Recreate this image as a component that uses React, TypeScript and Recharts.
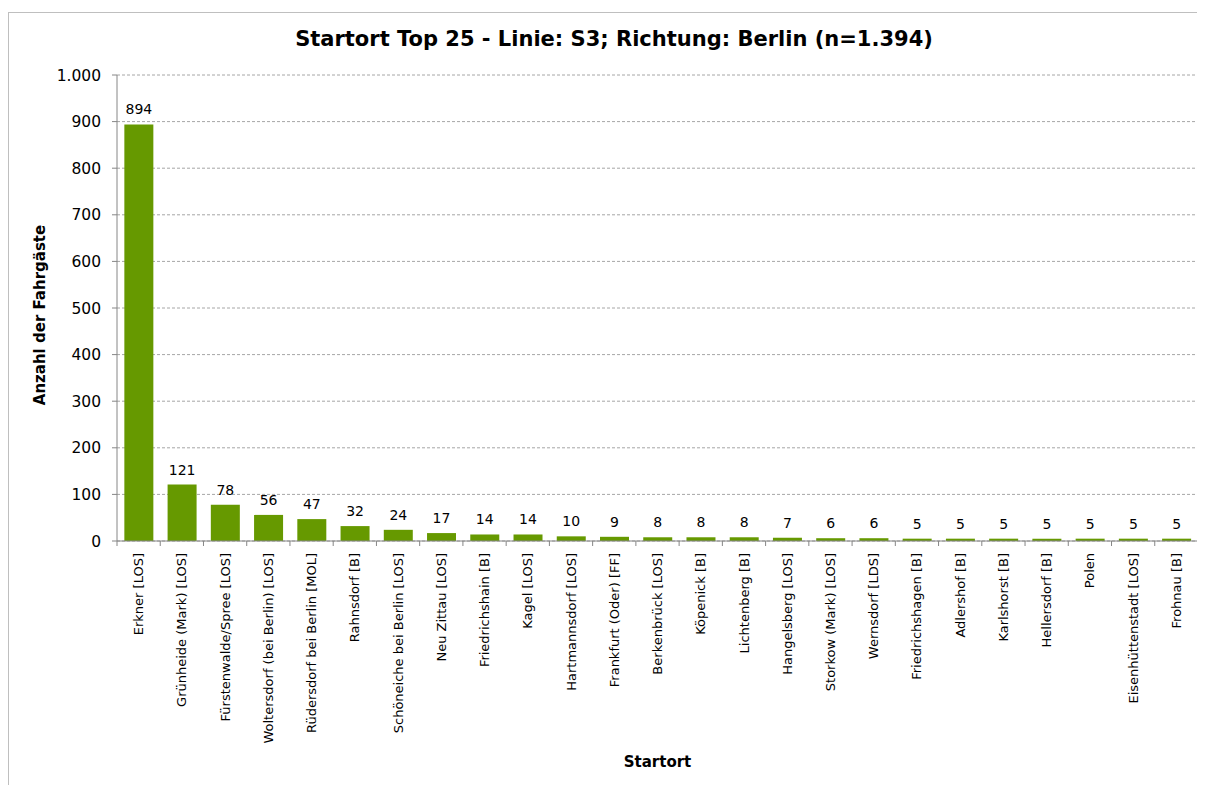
import React from "react";
import { BarChart, Bar, XAxis, YAxis, CartesianGrid, LabelList } from "recharts";

const startorte = [
  "Erkner [LOS]",
  "Grünheide (Mark) [LOS]",
  "Fürstenwalde/Spree [LOS]",
  "Woltersdorf (bei Berlin) [LOS]",
  "Rüdersdorf bei Berlin [MOL]",
  "Rahnsdorf [B]",
  "Schöneiche bei Berlin [LOS]",
  "Neu Zittau [LOS]",
  "Friedrichshain [B]",
  "Kagel [LOS]",
  "Hartmannsdorf [LOS]",
  "Frankfurt (Oder) [FF]",
  "Berkenbrück [LOS]",
  "Köpenick [B]",
  "Lichtenberg [B]",
  "Hangelsberg [LOS]",
  "Storkow (Mark) [LOS]",
  "Wernsdorf [LDS]",
  "Friedrichshagen [B]",
  "Adlershof [B]",
  "Karlshorst [B]",
  "Hellersdorf [B]",
  "Polen",
  "Eisenhüttenstadt [LOS]",
  "Frohnau [B]",
];

const fahrgaeste = [894, 121, 78, 56, 47, 32, 24, 17, 14, 14, 10, 9, 8, 8, 8, 7, 6, 6, 5, 5, 5, 5, 5, 5, 5];

const yTicks = [0, 100, 200, 300, 400, 500, 600, 700, 800, 900, 1000];

const data = startorte.map((name, i) => ({ name, value: fahrgaeste[i] }));

const FONT = "'DejaVu Sans', Verdana, sans-serif";
const AXIS_COLOR = "#868686";
const BAR_COLOR = "#669900";

const CHART_W = 1210;
const CHART_H = 780;
const MARGIN = { top: 62, right: 21, bottom: 22, left: 20 };
const Y_AXIS_W = 88;
const PLOT_W = CHART_W - MARGIN.left - MARGIN.right - Y_AXIS_W;
const BAND = PLOT_W / startorte.length;

const fmt = (v: number) => String(v).replace(/\B(?=(\d{3})+(?!\d))/g, ".");

function XTick(props: any) {
  const { x, y, payload, index } = props;
  const axisY = y - 12;
  const left = x - BAND / 2;
  return (
    <g>
      <line x1={left} y1={axisY} x2={left} y2={axisY + 5} stroke={AXIS_COLOR} />
      {index === startorte.length - 1 && (
        <line x1={x + BAND / 2} y1={axisY} x2={x + BAND / 2} y2={axisY + 5} stroke={AXIS_COLOR} />
      )}
      <text
        x={x}
        y={y}
        transform={`rotate(-90, ${x}, ${y})`}
        textAnchor="end"
        dy="0.35em"
        fontSize={13}
        fontFamily={FONT}
        fill="#000"
      >
        {payload.value}
      </text>
    </g>
  );
}

export default function App() {
  return (
    <div
      style={{
        position: "relative",
        top: 4,
        width: CHART_W,
        height: CHART_H,
        border: "1px solid #bfbfbf",
        background: "#fff",
        fontFamily: FONT,
      }}
    >
      <style>{"body{overflow:hidden}"}</style>
      <div
        style={{
          position: "absolute",
          left: 0,
          width: CHART_W,
          top: 14,
          textAlign: "center",
          fontWeight: "bold",
          fontSize: 21,
          color: "#000",
        }}
      >
        Startort Top 25 - Linie: S3; Richtung: Berlin (n=1.394)
      </div>
      <div
        style={{
          position: "absolute",
          left: 31,
          top: 302,
          transform: "translate(-50%, -50%) rotate(-90deg)",
          whiteSpace: "nowrap",
          fontWeight: "bold",
          fontSize: 15,
          color: "#000",
        }}
      >
        Anzahl der Fahrgäste
      </div>
      <div
        style={{
          position: "absolute",
          left: MARGIN.left + Y_AXIS_W + PLOT_W / 2,
          top: 749,
          transform: "translate(-50%, -50%)",
          whiteSpace: "nowrap",
          fontWeight: "bold",
          fontSize: 15,
          color: "#000",
        }}
      >
        Startort
      </div>
      <BarChart width={CHART_W} height={CHART_H} data={data} margin={MARGIN} barCategoryGap="17%">
        <CartesianGrid vertical={false} stroke="#a6a6a6" strokeDasharray="3 2" />
        <XAxis
          dataKey="name"
          interval={0}
          height={230}
          tickLine={false}
          tickSize={5}
          tickMargin={7}
          stroke={AXIS_COLOR}
          tick={<XTick />}
        />
        <YAxis
          width={Y_AXIS_W}
          domain={[0, 1000]}
          ticks={yTicks}
          tickFormatter={fmt}
          stroke={AXIS_COLOR}
          tickSize={5}
          tickMargin={11}
          tick={{ fontSize: 15.5, fontFamily: FONT, fill: "#000" }}
        />
        <Bar dataKey="value" fill={BAR_COLOR} isAnimationActive={false}>
          <LabelList
            dataKey="value"
            position="top"
            offset={10}
            style={{ fontSize: 14, fontFamily: FONT, fill: "#000" }}
          />
        </Bar>
      </BarChart>
    </div>
  );
}
